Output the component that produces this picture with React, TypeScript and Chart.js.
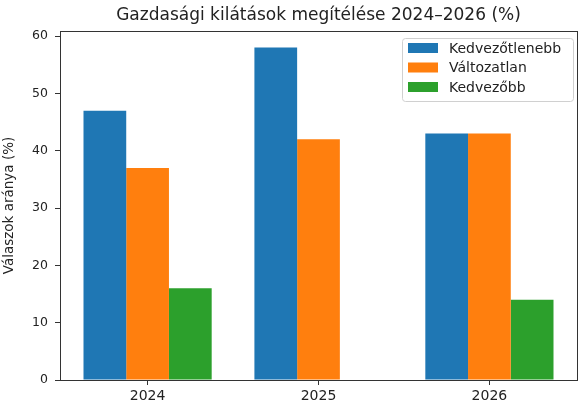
import React, { useEffect, useRef } from "react";
import { Chart, registerables } from "chart.js";

Chart.register(...registerables);

const title = "Gazdasági kilátások megítélése 2024–2026 (%)";
const yAxisLabel = "Válaszok aránya (%)";
const categories = ["2024", "2025", "2026"];
const seriesNames = ["Kedvezőtlenebb", "Változatlan", "Kedvezőbb"];
const kedvezotlenebb = [47, 58, 43];
const valtozatlan = [37, 42, 43];
const kedvezobb: (number | null)[] = [16, null, 14];
const seriesColors = ["#1f77b4", "#ff7f0e", "#2ca02c"];
const yTicks = [0, 10, 20, 30, 40, 50, 60];

const FONT = "'DejaVu Sans', sans-serif";

const framePlugin = {
  id: "frameAndText",
  afterDraw(chart: any) {
    const { ctx, chartArea } = chart;
    ctx.save();
    ctx.strokeStyle = "#333";
    ctx.lineWidth = 1;
    ctx.strokeRect(
      Math.round(chartArea.left) + 0.5,
      Math.round(chartArea.top) + 0.5,
      Math.round(chartArea.right - chartArea.left),
      Math.round(chartArea.bottom - chartArea.top)
    );
    // title
    ctx.fillStyle = "#222";
    ctx.font = `17px ${FONT}`;
    ctx.textAlign = "center";
    ctx.textBaseline = "middle";
    ctx.fillText(title, (chartArea.left + chartArea.right) / 2, 16);

    // legend
    const bx = 402, by = 38, bw = 171, bh = 63;
    ctx.fillStyle = "rgba(255,255,255,0.8)";
    ctx.strokeStyle = "#d0d0d0";
    ctx.beginPath();
    (ctx as any).roundRect(bx + 0.5, by + 0.5, bw, bh, 3);
    ctx.fill();
    ctx.stroke();
    ctx.font = `14px ${FONT}`;
    ctx.textAlign = "left";
    ctx.textBaseline = "middle";
    chart.data.datasets.forEach((ds: any, i: number) => {
      const cy = 48 + i * 19.5;
      ctx.fillStyle = ds.backgroundColor;
      ctx.fillRect(408, cy - 5, 30, 10);
      ctx.fillStyle = "#222";
      ctx.fillText(ds.label, 449, cy + 1);
    });
    ctx.restore();
  },
};

export default function App() {
  const ref = useRef<HTMLCanvasElement>(null);
  useEffect(() => {
    if (!ref.current) return;
    const seriesValues = [kedvezotlenebb, valtozatlan, kedvezobb];
    const chart = new Chart(ref.current, {
      type: "bar",
      data: {
        datasets: seriesNames.map((name, si) => ({
          label: name,
          data: categories.map((_, i) => ({ x: i, y: seriesValues[si][i] })) as any,
          backgroundColor: seriesColors[si],
          borderWidth: 0,
          categoryPercentage: 0.75,
          barPercentage: 1.0,
        })),
      },
      options: {
        animation: false,
        responsive: false,
        devicePixelRatio: 1,
        layout: { padding: { left: 0, right: 11, top: 31, bottom: 0 } },
        plugins: {
          legend: { display: false },
          title: { display: false },
          tooltip: { enabled: false },
        },
        scales: {
          x: {
            type: "linear",
            offset: false,
            min: -0.5125,
            max: 2.5125,
            afterBuildTicks: (axis: any) => {
              axis.ticks = categories.map((_, i) => ({ value: i }));
            },
            afterFit: (axis: any) => {
              axis.height = 32;
            },
            ticks: {
              autoSkip: false,
              maxRotation: 0,
              padding: 3,
              color: "#222",
              font: { family: FONT, size: 14 },
              callback: (v: any) => categories[Math.round(Number(v))] ?? "",
            },
            grid: {
              display: true,
              drawOnChartArea: false,
              drawTicks: true,
              tickLength: 5,
              color: "#333",
              offset: false,
            },
            border: { display: true, color: "#333" },
          },
          y: {
            min: 0,
            max: 60.9,
            afterBuildTicks: (axis: any) => {
              axis.ticks = yTicks.map((v) => ({ value: v }));
            },
            afterFit: (axis: any) => {
              axis.width = 60;
            },
            ticks: {
              padding: 7,
              color: "#222",
              font: { family: FONT, size: 12.5 },
            },
            grid: {
              display: true,
              drawOnChartArea: false,
              drawTicks: true,
              tickLength: 5,
              color: "#333",
            },
            border: { display: true, color: "#333" },
            title: {
              display: true,
              text: yAxisLabel,
              color: "#222",
              font: { family: FONT, size: 13.5 },
              padding: { top: 1, bottom: 0 },
            },
          },
        },
      },
      plugins: [framePlugin],
    } as any);
    return () => chart.destroy();
  }, []);
  return (
    <div style={{ position: "fixed", left: 0, top: 0, width: 588, height: 412, background: "#fff" }}>
      <canvas ref={ref} width={588} height={412} style={{ width: 588, height: 412, display: "block" }} />
    </div>
  );
}
